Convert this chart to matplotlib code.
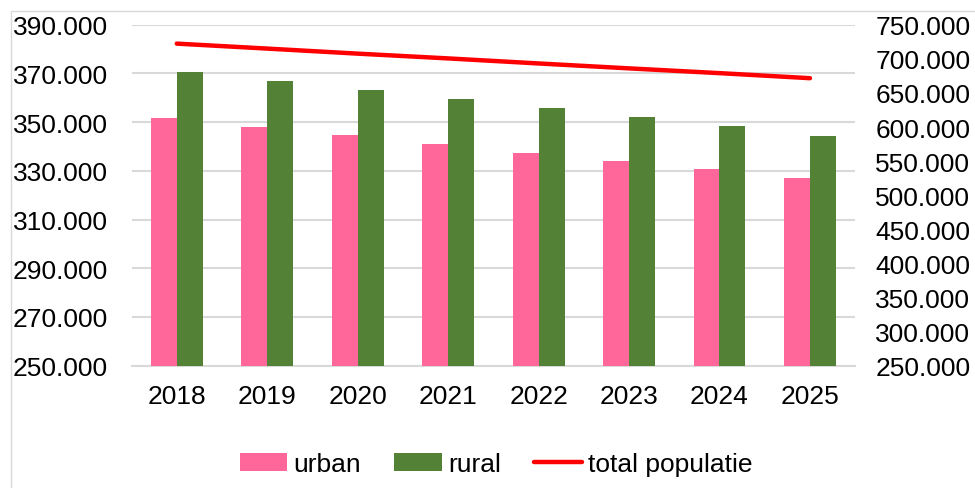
import numpy as np
import matplotlib
matplotlib.use('Agg')
from matplotlib import pyplot as plt
from matplotlib.patches import Rectangle
from matplotlib.ticker import FuncFormatter

# data
years = ['2018', '2019', '2020', '2021', '2022', '2023', '2024', '2025']
urban = [351700, 348100, 344600, 341200, 337500, 334000, 330600, 327200]
rural = [370600, 366900, 363000, 359400, 355700, 352000, 348400, 344400]
total = [722300, 715000, 707600, 700600, 693200, 686000, 679000, 671600]

plt.rcParams['font.family'] = ['Liberation Sans', 'DejaVu Sans']
fs = 19

def dot_thousands(v, pos):
    return '{:,}'.format(int(round(v))).replace(',', '.')

fig = plt.figure(figsize=(9.75, 4.89), dpi=100)
ax = fig.add_axes([0.1349, 0.2501, 0.7422, 0.6973])
ax2 = ax.twinx()

x = np.arange(len(years))
w = 0.287
ax.bar(x - w/2, urban, w, color='#FF6699', label='urban', zorder=3)
ax.bar(x + w/2, rural, w, color='#538135', label='rural', zorder=3)
ax2.plot(x, total, color='#FF0000', lw=3.2, solid_capstyle='round', label='total populatie')

ax.set_xlim(-0.5, len(years) - 0.5)
ax.set_ylim(250000, 390000)
ax.set_yticks(np.arange(250000, 390001, 20000))
ax2.set_ylim(250000, 750000)
ax2.set_yticks(np.arange(250000, 750001, 50000))
ax.yaxis.set_major_formatter(FuncFormatter(dot_thousands))
ax2.yaxis.set_major_formatter(FuncFormatter(dot_thousands))

ax.set_xticks(x)
ax.set_xticklabels(years)
ax.grid(axis='y', color='#d9d9d9', lw=1.5, zorder=0)
ax.set_axisbelow(True)

for a in (ax, ax2):
    for s in ('top', 'left', 'right', 'bottom'):
        a.spines[s].set_visible(False)
ax.spines['bottom'].set_visible(True)
ax.spines['bottom'].set_color('#d9d9d9')
ax.spines['bottom'].set_linewidth(1.5)

ax.tick_params(axis='y', length=0, pad=17, labelsize=fs)
ax.tick_params(axis='x', length=0, pad=13.5, labelsize=fs)
ax2.tick_params(axis='y', length=0, pad=14.5, labelsize=fs)

# chart border like the spreadsheet chart area
fig.patches.append(Rectangle((11/975, -0.1), 1.2, 1.1 - 12/489, transform=fig.transFigure,
                             fill=False, edgecolor='#d9d9d9', lw=1.0))

h1, l1 = ax.get_legend_handles_labels()
h2, l2 = ax2.get_legend_handles_labels()
fig.legend(h1 + h2, l1 + l2, loc='center', bbox_to_anchor=(0.509, 0.049),
           ncol=3, frameon=False, fontsize=fs, handlelength=1.8,
           handleheight=0.65, handletextpad=0.25, columnspacing=1.25)

fig.savefig('out.png', dpi=100)
